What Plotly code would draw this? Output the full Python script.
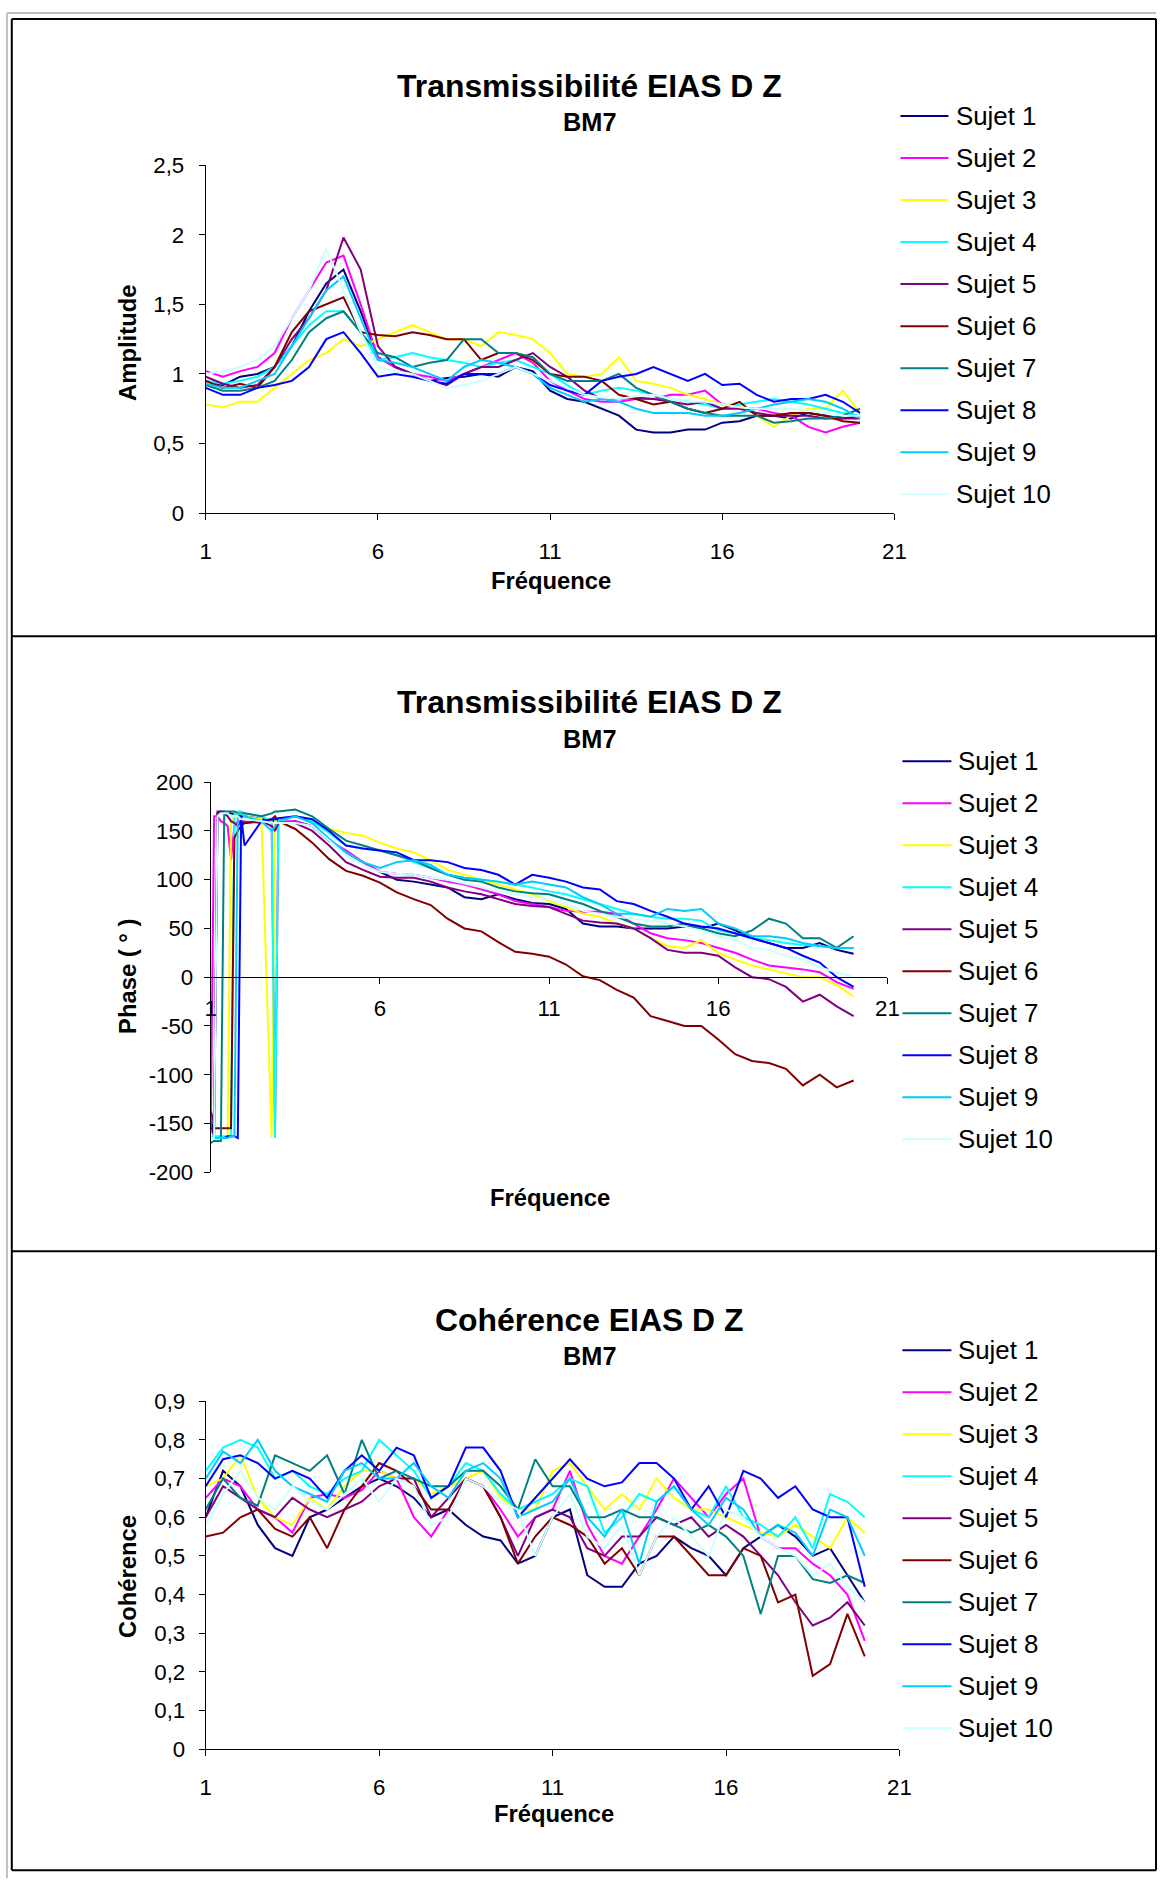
import plotly.graph_objects as go

W, H = 1169, 1892

# ---- data -------------------------------------------------------------
noms = ['Sujet 1', 'Sujet 2', 'Sujet 3', 'Sujet 4', 'Sujet 5',
        'Sujet 6', 'Sujet 7', 'Sujet 8', 'Sujet 9', 'Sujet 10']
couleurs = ['#000080', '#FF00FF', '#FFFF00', '#00FFFF', '#800080',
            '#800000', '#008080', '#0000FF', '#00CCFF', '#CCFFFF']

freq = [1.0, 1.5, 2.0, 2.5, 3.0, 3.5, 4.0, 4.5, 5.0, 5.5,
        6.0, 6.5, 7.0, 7.5, 8.0, 8.5, 9.0, 9.5, 10.0, 10.5,
        11.0, 11.5, 12.0, 12.5, 13.0, 13.5, 14.0, 14.5, 15.0, 15.5,
        16.0, 16.5, 17.0, 17.5, 18.0, 18.5, 19.0, 19.5, 20.0]

freq_phase = [1.0, 1.1, 1.2, 1.3, 1.4, 1.5, 1.6, 1.7, 1.8, 1.9,
              2.0, 2.5, 2.8, 2.9, 3.0,
              3.5, 4.0, 4.5, 5.0, 5.5, 6.0, 6.5, 7.0, 7.5, 8.0,
              8.5, 9.0, 9.5, 10.0, 10.5, 11.0, 11.5, 12.0, 12.5, 13.0,
              13.5, 14.0, 14.5, 15.0, 15.5, 16.0, 16.5, 17.0, 17.5, 18.0,
              18.5, 19.0, 19.5, 20.0]

amp_s1 = [0.95, 0.92, 0.98, 1.00, 1.05, 1.20, 1.45, 1.65, 1.75, 1.45,
          1.12, 1.05, 1.00, 0.95, 0.97, 0.98, 1.00, 0.98, 1.05, 1.02,
          0.88, 0.82, 0.80, 0.75, 0.70, 0.60, 0.58, 0.58, 0.60, 0.60,
          0.65, 0.66, 0.70, 0.70, 0.68, 0.72, 0.70, 0.68, 0.70]
amp_s2 = [1.02, 0.98, 1.02, 1.05, 1.15, 1.40, 1.60, 1.80, 1.85, 1.50,
          1.12, 1.05, 1.00, 0.98, 0.95, 1.00, 1.05, 1.10, 1.15, 1.08,
          0.95, 0.88, 0.82, 0.80, 0.80, 0.82, 0.82, 0.85, 0.85, 0.88,
          0.78, 0.76, 0.75, 0.72, 0.70, 0.62, 0.58, 0.62, 0.65]
amp_s3 = [0.78, 0.76, 0.80, 0.80, 0.90, 1.00, 1.10, 1.15, 1.25, 1.20,
          1.25, 1.30, 1.35, 1.30, 1.25, 1.25, 1.20, 1.30, 1.28, 1.25,
          1.15, 1.00, 0.98, 1.00, 1.12, 0.95, 0.93, 0.90, 0.85, 0.82,
          0.78, 0.78, 0.70, 0.62, 0.70, 0.75, 0.75, 0.88, 0.72]
amp_s4 = [0.95, 0.93, 0.95, 0.98, 1.05, 1.20, 1.35, 1.45, 1.45, 1.30,
          1.10, 1.12, 1.15, 1.12, 1.10, 1.08, 1.05, 1.08, 1.10, 1.05,
          1.00, 0.92, 0.85, 0.88, 0.90, 0.88, 0.85, 0.82, 0.80, 0.78,
          0.75, 0.78, 0.80, 0.82, 0.80, 0.78, 0.75, 0.72, 0.70]
amp_s5 = [0.98, 0.93, 0.90, 0.92, 1.05, 1.25, 1.40, 1.60, 1.98, 1.75,
          1.20, 1.05, 1.00, 0.95, 0.92, 1.00, 1.05, 1.05, 1.10, 1.15,
          1.05, 0.98, 0.88, 0.82, 0.82, 0.83, 0.82, 0.80, 0.78, 0.80,
          0.75, 0.75, 0.72, 0.70, 0.70, 0.70, 0.68, 0.68, 0.68]
amp_s6 = [0.95, 0.90, 0.93, 0.90, 1.05, 1.30, 1.45, 1.50, 1.55, 1.30,
          1.28, 1.27, 1.30, 1.28, 1.25, 1.25, 1.10, 1.15, 1.15, 1.10,
          1.00, 0.98, 0.98, 0.95, 0.85, 0.82, 0.78, 0.80, 0.75, 0.72,
          0.75, 0.80, 0.70, 0.70, 0.72, 0.72, 0.70, 0.66, 0.65]
amp_s7 = [0.92, 0.88, 0.88, 0.90, 0.95, 1.10, 1.30, 1.40, 1.45, 1.30,
          1.15, 1.12, 1.05, 1.08, 1.10, 1.25, 1.25, 1.15, 1.15, 1.12,
          1.00, 0.95, 0.95, 0.95, 1.00, 0.90, 0.85, 0.80, 0.75, 0.72,
          0.70, 0.70, 0.70, 0.65, 0.66, 0.68, 0.68, 0.70, 0.75]
amp_s8 = [0.90, 0.85, 0.85, 0.90, 0.92, 0.95, 1.05, 1.25, 1.30, 1.15,
          0.98, 1.00, 0.98, 0.95, 0.93, 1.00, 1.00, 1.00, 1.05, 1.00,
          0.92, 0.88, 0.85, 0.95, 0.98, 1.00, 1.05, 1.00, 0.95, 1.00,
          0.92, 0.93, 0.85, 0.80, 0.82, 0.82, 0.85, 0.80, 0.72]
amp_s9 = [0.93, 0.90, 0.90, 0.95, 1.00, 1.20, 1.40, 1.60, 1.70, 1.40,
          1.10, 1.08, 1.05, 1.00, 0.95, 1.05, 1.10, 1.08, 1.05, 1.00,
          0.90, 0.85, 0.80, 0.82, 0.80, 0.75, 0.72, 0.72, 0.72, 0.70,
          0.70, 0.72, 0.75, 0.78, 0.80, 0.82, 0.80, 0.75, 0.68]
amp_s10 = [1.00, 1.02, 1.05, 1.10, 1.20, 1.40, 1.60, 1.90, 1.60, 1.30,
           1.05, 1.02, 1.00, 0.95, 0.90, 0.92, 0.95, 1.00, 1.05, 1.00,
           0.95, 0.90, 0.85, 0.83, 0.82, 0.84, 0.85, 0.82, 0.80, 0.80,
           0.78, 0.76, 0.75, 0.75, 0.75, 0.74, 0.72, 0.70, 0.70]

ph_s1 = [-143, -165, 168, 170, 170, 168, 168, 167, 166, 165, 165, 162, 160, 160, 158,
         160, 155, 140, 128, 118, 108, 100, 98, 95, 92, 82, 80, 85, 80, 76, 75, 70,
         55, 52, 52, 50, 50, 50, 52, 50, 55, 48, 40, 35, 30, 30, 35, 28, 24]
ph_s2 = [-160, 165, 165, 160, 158, 155, 120, 155, 160, 160, 160, 158, 160, -160, 160,
         160, 155, 140, 130, 118, 108, 106, 105, 102, 98, 95, 90, 85, 78, 75, 72,
         68, 67, 67, 65, 55, 45, 40, 38, 35, 30, 25, 18, 12, 10, 8, 5, -5, -12]
ph_s3 = [-163, -165, -165, -165, -165, -165, 160, 165, 168, 168, 165, 162, -165, 160, 160,
         165, 160, 152, 148, 145, 138, 132, 128, 120, 110, 105, 100, 95, 90, 85, 78,
         72, 65, 62, 55, 50, 40, 32, 30, 38, 25, 18, 12, 8, 4, 0, 0, -8, -20]
ph_s4 = [-165, -163, -163, -163, -163, -163, -163, 168, 170, 170, 168, 165, 160, -165, 160,
         165, 160, 148, 135, 132, 130, 125, 118, 112, 105, 102, 100, 98, 95, 92, 88,
         85, 80, 75, 70, 65, 62, 60, 60, 58, 48, 45, 40, 38, 35, 33, 32, 30, 30]
ph_s5 = [-137, -150, 170, 170, 168, 165, 160, 158, 155, 160, 158, 160, 155, 150, 158,
         158, 150, 135, 118, 110, 103, 102, 102, 98, 92, 88, 85, 80, 75, 73, 72,
         65, 58, 56, 55, 50, 40, 28, 25, 25, 22, 10, 0, -2, -10, -25, -18, -30, -40]
ph_s6 = [-155, -155, -155, -155, -155, -155, -155, 143, 150, 155, 158, 160, 162, 165, 160,
         152, 138, 121, 109, 104, 97, 87, 80, 74, 60, 50, 47, 36, 26, 24, 21,
         13, 1, -3, -13, -21, -40, -45, -50, -50, -64, -79, -86, -88, -94, -111, -100, -113, -106]
ph_s7 = [-170, -168, -168, -168, 170, 170, 170, 170, 168, 168, 168, 165, 168, 170, 170,
         172, 165, 152, 140, 135, 130, 125, 120, 112, 105, 100, 98, 92, 88, 86, 85,
         80, 75, 68, 62, 55, 52, 52, 55, 50, 45, 42, 48, 60, 55, 40, 40, 30, 42]
ph_s8 = [-165, -165, -165, -165, -165, -163, -163, -163, -165, 165, 135, 160, 162, 162, 163,
         165, 162, 150, 135, 132, 130, 128, 120, 120, 118, 112, 110, 105, 95, 105, 102,
         98, 92, 90, 78, 75, 68, 62, 55, 52, 50, 45, 40, 35, 30, 22, 15, 0, -10]
ph_s9 = [-165, -165, -165, -165, -165, -165, -163, -163, 168, 168, 165, 160, 150, 155, 160,
         165, 158, 142, 128, 118, 112, 118, 120, 115, 105, 102, 100, 98, 95, 98, 95,
         92, 82, 75, 65, 65, 62, 70, 68, 70, 55, 50, 42, 42, 40, 35, 32, 30, 30]
ph_s10 = [-165, -165, 165, 168, 168, 168, 165, 165, 165, 162, 162, 160, 158, 158, 158,
          158, 155, 140, 125, 115, 108, 106, 105, 102, 100, 96, 92, 88, 85, 82, 80,
          75, 68, 65, 62, 60, 58, 55, 52, 48, 42, 38, 30, 28, 22, 18, 10, 5, 0]

coh_s1 = [0.60, 0.72, 0.68, 0.58, 0.52, 0.50, 0.60, 0.62, 0.65, 0.68,
          0.70, 0.68, 0.65, 0.60, 0.62, 0.58, 0.55, 0.54, 0.48, 0.50,
          0.60, 0.62, 0.45, 0.42, 0.42, 0.48, 0.50, 0.55, 0.52, 0.50,
          0.45, 0.52, 0.55, 0.58, 0.55, 0.50, 0.52, 0.45, 0.38]
coh_s2 = [0.65, 0.70, 0.68, 0.62, 0.60, 0.56, 0.65, 0.66, 0.65, 0.67,
          0.72, 0.70, 0.60, 0.55, 0.62, 0.70, 0.68, 0.62, 0.55, 0.60,
          0.62, 0.72, 0.58, 0.50, 0.48, 0.55, 0.62, 0.70, 0.65, 0.60,
          0.66, 0.70, 0.55, 0.52, 0.52, 0.48, 0.45, 0.40, 0.28]
coh_s3 = [0.68, 0.70, 0.76, 0.65, 0.60, 0.58, 0.65, 0.62, 0.68, 0.72,
          0.72, 0.70, 0.70, 0.66, 0.68, 0.70, 0.72, 0.65, 0.62, 0.62,
          0.72, 0.74, 0.68, 0.62, 0.66, 0.62, 0.70, 0.65, 0.62, 0.62,
          0.60, 0.58, 0.56, 0.55, 0.58, 0.55, 0.52, 0.60, 0.56]
coh_s4 = [0.72, 0.78, 0.80, 0.78, 0.70, 0.72, 0.68, 0.66, 0.70, 0.72,
          0.80, 0.76, 0.72, 0.65, 0.68, 0.74, 0.72, 0.66, 0.62, 0.64,
          0.66, 0.70, 0.68, 0.56, 0.60, 0.66, 0.64, 0.68, 0.62, 0.60,
          0.68, 0.60, 0.58, 0.55, 0.60, 0.52, 0.66, 0.64, 0.60]
coh_s5 = [0.60, 0.68, 0.65, 0.62, 0.60, 0.65, 0.62, 0.60, 0.62, 0.64,
          0.68, 0.70, 0.70, 0.60, 0.65, 0.70, 0.68, 0.60, 0.50, 0.60,
          0.62, 0.60, 0.52, 0.50, 0.55, 0.55, 0.60, 0.58, 0.60, 0.55,
          0.58, 0.55, 0.50, 0.45, 0.38, 0.32, 0.34, 0.38, 0.32]
coh_s6 = [0.55, 0.56, 0.60, 0.62, 0.57, 0.55, 0.60, 0.52, 0.62, 0.68,
          0.74, 0.72, 0.68, 0.62, 0.62, 0.70, 0.68, 0.60, 0.48, 0.55,
          0.60, 0.58, 0.55, 0.48, 0.52, 0.45, 0.55, 0.55, 0.50, 0.45,
          0.45, 0.52, 0.50, 0.38, 0.40, 0.19, 0.22, 0.35, 0.24]
coh_s7 = [0.62, 0.70, 0.65, 0.63, 0.76, 0.74, 0.72, 0.76, 0.66, 0.80,
          0.70, 0.72, 0.70, 0.68, 0.68, 0.72, 0.72, 0.68, 0.62, 0.75,
          0.68, 0.68, 0.60, 0.60, 0.62, 0.60, 0.60, 0.58, 0.56, 0.58,
          0.55, 0.50, 0.35, 0.50, 0.50, 0.44, 0.43, 0.45, 0.43]
coh_s8 = [0.68, 0.75, 0.76, 0.74, 0.70, 0.72, 0.70, 0.65, 0.72, 0.76,
          0.72, 0.78, 0.76, 0.65, 0.68, 0.78, 0.78, 0.72, 0.60, 0.65,
          0.70, 0.75, 0.70, 0.68, 0.69, 0.74, 0.74, 0.70, 0.62, 0.68,
          0.60, 0.72, 0.70, 0.65, 0.68, 0.62, 0.60, 0.60, 0.42]
coh_s9 = [0.70, 0.77, 0.74, 0.80, 0.72, 0.68, 0.66, 0.64, 0.72, 0.74,
          0.70, 0.70, 0.74, 0.68, 0.65, 0.72, 0.74, 0.70, 0.60, 0.62,
          0.64, 0.70, 0.60, 0.55, 0.62, 0.48, 0.64, 0.68, 0.62, 0.58,
          0.65, 0.62, 0.55, 0.58, 0.56, 0.50, 0.62, 0.60, 0.50]
coh_s10 = [0.58, 0.66, 0.72, 0.65, 0.62, 0.68, 0.64, 0.62, 0.66, 0.70,
           0.64, 0.70, 0.68, 0.58, 0.60, 0.70, 0.68, 0.64, 0.62, 0.50,
           0.60, 0.66, 0.55, 0.52, 0.58, 0.45, 0.55, 0.60, 0.55, 0.50,
           0.62, 0.60, 0.55, 0.52, 0.50, 0.45, 0.48, 0.42, 0.38]

amplitude = [amp_s1, amp_s2, amp_s3, amp_s4, amp_s5, amp_s6, amp_s7, amp_s8, amp_s9, amp_s10]
phase = [ph_s1, ph_s2, ph_s3, ph_s4, ph_s5, ph_s6, ph_s7, ph_s8, ph_s9, ph_s10]
coherence = [coh_s1, coh_s2, coh_s3, coh_s4, coh_s5, coh_s6, coh_s7, coh_s8, coh_s9, coh_s10]

x_ticks = [1, 6, 11, 16, 21]
x_labels = ['1', '6', '11', '16', '21']
amp_ticks = [0, 0.5, 1, 1.5, 2, 2.5]
amp_labels = ['0', '0,5', '1', '1,5', '2', '2,5']
ph_ticks = [-200, -150, -100, -50, 0, 50, 100, 150, 200]
ph_labels = ['-200', '-150', '-100', '-50', '0', '50', '100', '150', '200']
coh_ticks = [0, 0.1, 0.2, 0.3, 0.4, 0.5, 0.6, 0.7, 0.8, 0.9]
coh_labels = ['0', '0,1', '0,2', '0,3', '0,4', '0,5', '0,6', '0,7', '0,8', '0,9']

# ---- helpers ------------------------------------------------------------
# target pixel positions are read off the reference; the photo of the page
# comes out slightly shrunk and shifted, so map them back first
AX, SX = 6.2, 0.985
AY, SY = 12.9, 0.9867
K = 1 / SY   # font / length correction

def cx(x):
    return min(max((x - AX) / SX, 1), W - 1)

def cy(y):
    return min(max((y - AY) / SY, 1), H - 1)

def px(x):
    return cx(x) / W

def py(y):
    return 1 - cy(y) / H

FONT = 'Liberation Sans, Arial, sans-serif'

fig = go.Figure()

panels = [
    (freq, amplitude, 'x', 'y'),
    (freq_phase, phase, 'x2', 'y2'),
    (freq, coherence, 'x3', 'y3'),
]
for xs, series, xa, ya in panels:
    for nom, col, ys in zip(noms, couleurs, series):
        fig.add_trace(go.Scatter(x=xs, y=ys, mode='lines', name=nom,
                                 line=dict(color=col, width=2),
                                 xaxis=xa, yaxis=ya, showlegend=False))

TICKSIZE = 22 * K

def xax(dom, standoff, **kw):
    d = dict(domain=dom, range=[1, 21], tickvals=x_ticks, ticktext=x_labels,
             showline=True, linecolor='black', linewidth=1, ticks='outside',
             ticklen=6, tickcolor='black', showgrid=False, zeroline=False,
             tickfont=dict(family=FONT, size=TICKSIZE, color='black'),
             ticklabelstandoff=standoff)
    d.update(kw)
    return d

def yax(dom, rng, vals, labels, standoff, **kw):
    d = dict(domain=dom, range=rng, tickvals=vals, ticktext=labels,
             showline=True, linecolor='black', linewidth=1, ticks='outside',
             ticklen=6, tickcolor='black', showgrid=False, zeroline=False,
             tickfont=dict(family=FONT, size=TICKSIZE, color='black'),
             ticklabelstandoff=standoff)
    d.update(kw)
    return d

zero_pos = py(978)

fig.update_layout(
    width=W, height=H, autosize=False, margin=dict(l=0, r=0, t=0, b=0),
    paper_bgcolor='white', plot_bgcolor='white', showlegend=False,
    xaxis=xax([px(206), px(895)], 12, anchor='y'),
    yaxis=yax([py(514), py(166)], [0, 2.5], amp_ticks, amp_labels, 10, anchor='x'),
    xaxis2=xax([px(211), px(888)], 5, anchor='free', position=zero_pos),
    yaxis2=yax([py(1173), py(783)], [-200, 200], ph_ticks, ph_labels, 6, anchor='x2'),
    xaxis3=xax([px(206), px(900)], 12, anchor='y3'),
    yaxis3=yax([py(1750), py(1402)], [0, 0.9], coh_ticks, coh_labels, 9, anchor='x3'),
)

# ---- frame ---------------------------------------------------------------
def hline(x0, x1, y, col, w):
    return dict(type='line', xref='paper', yref='paper', x0=px(x0), x1=px(x1),
                y0=py(y), y1=py(y), line=dict(color=col, width=w))

def vline(x, y0, y1, col, w):
    return dict(type='line', xref='paper', yref='paper', x0=px(x), x1=px(x),
                y0=py(y0), y1=py(y1), line=dict(color=col, width=w))

shapes = [
    vline(0, 0, 1892, '#C0C0C0', 2),
    hline(0, 1169, 0, '#C0C0C0', 2),
    hline(12, 1166, 20, 'black', 2),
    hline(12, 1166, 1871, 'black', 2),
    vline(12, 20, 1871, 'black', 2),
    vline(1166, 20, 1871, 'black', 2),
    hline(12, 1166, 637, 'black', 2),
    hline(12, 1166, 1252, 'black', 2),
]

annotations = []

def txt(x, y, text, size, bold=False, angle=0, xanchor='center'):
    annotations.append(dict(
        xref='paper', yref='paper', x=px(x), y=py(y), text=('<b>%s</b>' % text) if bold else text,
        showarrow=False, xanchor=xanchor, yanchor='middle', textangle=angle,
        font=dict(family=FONT, size=size * K, color='black')))

# titles
txt(590, 87, 'Transmissibilité EIAS D Z', 31.5, True)
txt(590, 123, 'BM7', 25, True)
txt(590, 703, 'Transmissibilité EIAS D Z', 31.5, True)
txt(590, 740, 'BM7', 25, True)
txt(590, 1321, 'Cohérence EIAS D Z', 31.5, True)
txt(590, 1357, 'BM7', 25, True)

# axis titles
txt(551, 581, 'Fréquence', 23.5, True)
txt(127, 344, 'Amplitude', 23.5, True, -90)
txt(550, 1198, 'Fréquence', 23.5, True)
txt(127, 977, 'Phase ( ° )', 23.5, True, -90)
txt(554, 1814, 'Fréquence', 23.5, True)
txt(127, 1577, 'Cohérence', 23.5, True, -90)

# legends
for top, lx0, lx1, tx in [(117, 901, 949, 955), (762, 903, 952, 957), (1351, 903, 952, 957)]:
    for i, (nom, col) in enumerate(zip(noms, couleurs)):
        yy = top + i * 42
        shapes.append(hline(lx0, lx1, yy, col, 2))
        txt(tx, yy, nom, 25.5, False, 0, 'left')

fig.update_layout(shapes=shapes, annotations=annotations)

# no page margin / scrollbars
css = ("document.documentElement.style.margin='0';"
       "document.documentElement.style.overflow='hidden';"
       "document.body.style.margin='0';"
       "document.body.style.padding='0';"
       "document.body.style.overflow='hidden';")
fig.write_html("out.html", config={'responsive': False, 'displayModeBar': False},
               post_script=css)
